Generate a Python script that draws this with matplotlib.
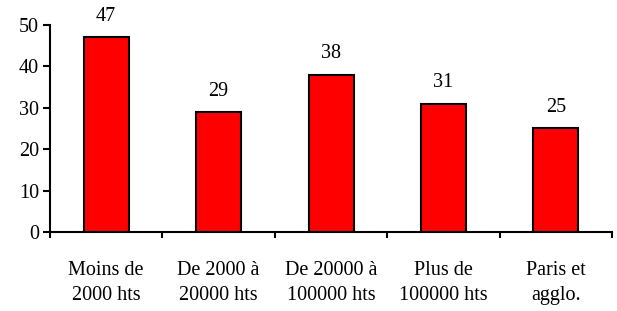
import matplotlib.pyplot as plt
import numpy as np

categories = ["Moins de\n2000 hts", "De 2000 à\n20000 hts", "De 20000 à\n100000 hts",
              "Plus de\n100000 hts", "Paris et\nagglo."]
values = [47, 29, 38, 31, 25]

plt.rcParams['font.family'] = ['Liberation Serif', 'DejaVu Serif']

fig = plt.figure(figsize=(6.17, 3.11), dpi=100)
ax = fig.add_axes([0.081, 0.254, 0.911, 0.666])

x = np.arange(len(categories))
ax.bar(x, values, width=0.4, color='#ff0000', edgecolor='black', linewidth=1.5)

# value labels above the bars
for xi, v in zip(x, values):
    ax.annotate(str(v), (xi, v), xytext=(0, 8), textcoords='offset points',
                ha='center', va='bottom', fontsize=14.5)

ax.set_xlim(-0.5, len(categories) - 0.5)
ax.set_ylim(0, 50)
ax.set_yticks(range(0, 51, 10))

ax.set_xticks(x)
ax.set_xticklabels(categories, fontsize=14.5, linespacing=1.4)
ax.tick_params(axis='x', which='major', length=0, pad=21)
ax.set_xticks(np.arange(-0.5, len(categories), 1), minor=True)
ax.tick_params(axis='x', which='minor', length=4, width=1.5, direction='out')
ax.tick_params(axis='y', length=5, width=1.5, direction='out', labelsize=14.5, pad=3)

for side in ['top', 'right']:
    ax.spines[side].set_visible(False)
for side in ['left', 'bottom']:
    ax.spines[side].set_linewidth(1.5)

fig.savefig('out.png', dpi=100)
